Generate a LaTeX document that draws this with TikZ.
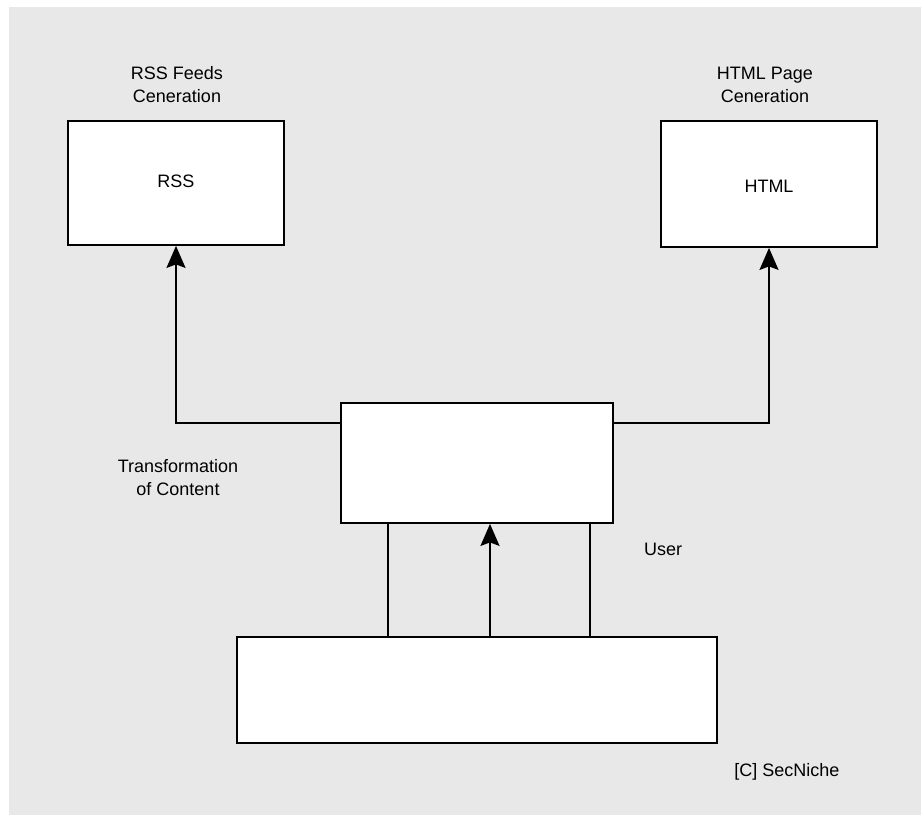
\documentclass[tikz,border=0pt]{standalone}
\usepackage{fontspec}
\setmainfont{Liberation Sans}
\usetikzlibrary{positioning,arrows.meta}
\definecolor{bggray}{RGB}{232,232,232}
\tikzset{
  box/.style={draw, fill=white, line width=1.8pt, inner sep=0pt},
  lbl/.style={align=center, font=\fontsize{18}{23}\selectfont},
  link/.style={line width=1.8pt},
  arr/.style={link, -{Stealth[length=22pt,width=19pt,inset=3.5pt]}}
}
\begin{document}
\begin{tikzpicture}[x=1pt,y=-1pt]
        \useasboundingbox (0,0) rectangle (921,815);
        \fill[bggray] (9,7) rectangle (921,815);

        \node[box, minimum width=216pt, minimum height=124pt] (rss) at (176,183) {};
        \node[lbl] (rsstxt) at (176,181) {RSS};
        \node[box, minimum width=216pt, minimum height=126pt] (html) at (769,184) {};
        \node[lbl] (htmltxt) at (769,186) {HTML};
        \node[box, minimum width=272pt, minimum height=120pt] (trans) at (477,463) {};
        \node[box, minimum width=480pt, minimum height=106pt] (user) at (477,690) {};

        \node[lbl] (rsshead) at (177,85) {RSS Feeds\\Ceneration};
        \node[lbl] (htmlhead) at (765,85) {HTML Page\\Ceneration};
        \node[lbl] (translbl) at (178,478) {Transformation\\of Content};
        \node[lbl] (userlbl) at (663,549) {User};
        \node[lbl] (copy) at (787,772) {[C] SecNiche};

        \draw[arr] ([yshift=-21pt]trans.north west) -| (rss.south);
        \draw[arr] ([yshift=-21pt]trans.north east) -| (html.south);
        \foreach \dx in {-89,113}
            \draw[link] ([xshift=\dx pt]user.north) -- ([xshift=\dx pt]user.north |- trans.south);
        \draw[arr] ([xshift=13pt]user.north) -- ([xshift=13pt]user.north |- trans.south);
    \end{tikzpicture}
\end{document}
